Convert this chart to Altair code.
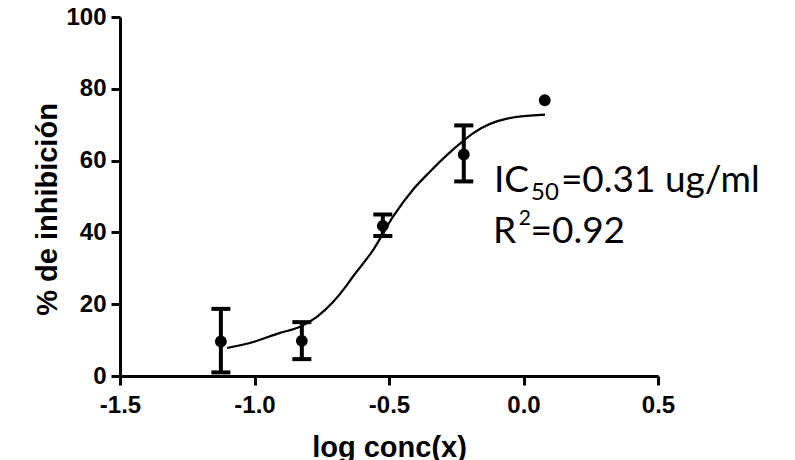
import altair as alt
import pandas as pd

# Measured data (mean, error bar low/high)
log_conc = [-1.125, -0.824, -0.523, -0.222, 0.079]
inhib = [9.6, 9.8, 41.8, 61.7, 76.8]
err_lo = [1.0, 4.7, 39.0, 54.2, 76.8]
err_hi = [18.7, 15.0, 45.0, 69.8, 76.8]
has_err = [True, True, True, True, False]

# Fitted curve
curve_x = [-1.102, -1.017, -0.905, -0.831, -0.768, -0.708, -0.656, -0.638, -0.559,
           -0.485, -0.411, -0.348, -0.284, -0.225, -0.188, -0.061, 0.080]
curve_y = [7.8, 9.2, 12.0, 13.7, 16.5, 20.6, 25.4, 27.3, 35.1,
           44.4, 51.9, 56.9, 61.6, 65.4, 67.6, 71.7, 72.8]

x_ticks = [-1.5, -1.0, -0.5, 0.0, 0.5]
y_ticks = [0, 20, 40, 60, 80, 100]

# Annotation pieces (text, x, y in data units, font size)
ann_text = ["IC", "50", "=0.31 ug/ml", "R", "2", "=0.92"]
ann_x = [-0.110, 0.028, 0.139, -0.113, -0.018, 0.026]
ann_y = [51.25, 49.0, 51.25, 37.05, 42.06, 37.05]
ann_fs = [37, 24, 37, 37, 21, 37]

pts = pd.DataFrame({"x": log_conc, "y": inhib, "lo": err_lo, "hi": err_hi, "e": has_err})
errs = pts[pts["e"]]
cur = pd.DataFrame({"x": curve_x, "y": curve_y})
ann = pd.DataFrame({"t": ann_text, "x": ann_x, "y": ann_y, "fs": ann_fs})

FONT = "Liberation Sans"

xscale = alt.Scale(domain=[-1.5, 0.5], nice=False, zero=False)
yscale = alt.Scale(domain=[0, 100], nice=False)

xaxis = alt.Axis(values=x_ticks, title="log conc(x)", grid=False,
                 labelExpr="datum.value < 0 ? '-' + format(-datum.value, '.1f') : format(datum.value, '.1f')",
                 domainColor="black", domainWidth=3, tickColor="black", tickWidth=3,
                 tickSize=9, labelFont=FONT, labelFontWeight="bold", labelFontSize=24,
                 labelColor="black", labelPadding=8, labelFlush=False,
                 titleFont=FONT, titleFontWeight="bold", titleFontSize=29,
                 titleColor="black", titleBaseline="alphabetic", titleY=80)
yaxis = alt.Axis(values=y_ticks, format="d", title="% de inhibición", grid=False,
                 domainColor="black", domainWidth=3, tickColor="black", tickWidth=3,
                 tickSize=9, labelFont=FONT, labelFontWeight="bold", labelFontSize=24,
                 labelColor="black", labelPadding=5, labelFlush=False,
                 titleFont=FONT, titleFontWeight="bold", titleFontSize=29,
                 titleColor="black", titleAngle=-90, titleBaseline="alphabetic",
                 titleX=-64, titleY=192)

base_x = alt.X("x:Q", scale=xscale, axis=xaxis)
base_y = alt.Y("y:Q", scale=yscale, axis=yaxis)

line = alt.Chart(cur).mark_line(color="black", strokeWidth=2.2, interpolate="monotone").encode(
    x=base_x, y=base_y)

rules = alt.Chart(errs).mark_rule(color="black", strokeWidth=4).encode(
    x="x:Q", y="lo:Q", y2="hi:Q")
cap_lo = alt.Chart(errs).mark_tick(color="black", thickness=4, size=19, orient="horizontal", opacity=1).encode(
    x="x:Q", y="lo:Q")
cap_hi = alt.Chart(errs).mark_tick(color="black", thickness=4, size=19, orient="horizontal", opacity=1).encode(
    x="x:Q", y="hi:Q")
points = alt.Chart(pts).mark_point(filled=True, color="black", opacity=1, size=140, shape="circle").encode(
    x="x:Q", y="y:Q")

texts = alt.Chart(ann).mark_text(font="Lato", color="black", align="left", baseline="alphabetic").encode(
    x="x:Q", y="y:Q", text="t:N", size=alt.Size("fs:Q", scale=None, legend=None))

chart = alt.layer(line, rules, cap_lo, cap_hi, points, texts).properties(
    width=538, height=359,
    autosize=alt.AutoSizeParams(type="none"),
    padding={"left": 112, "top": 9, "right": 120, "bottom": 84},
).configure(background="white").configure_view(stroke=None)

chart.save("out.html", embed_options={"renderer": "svg", "actions": False})
